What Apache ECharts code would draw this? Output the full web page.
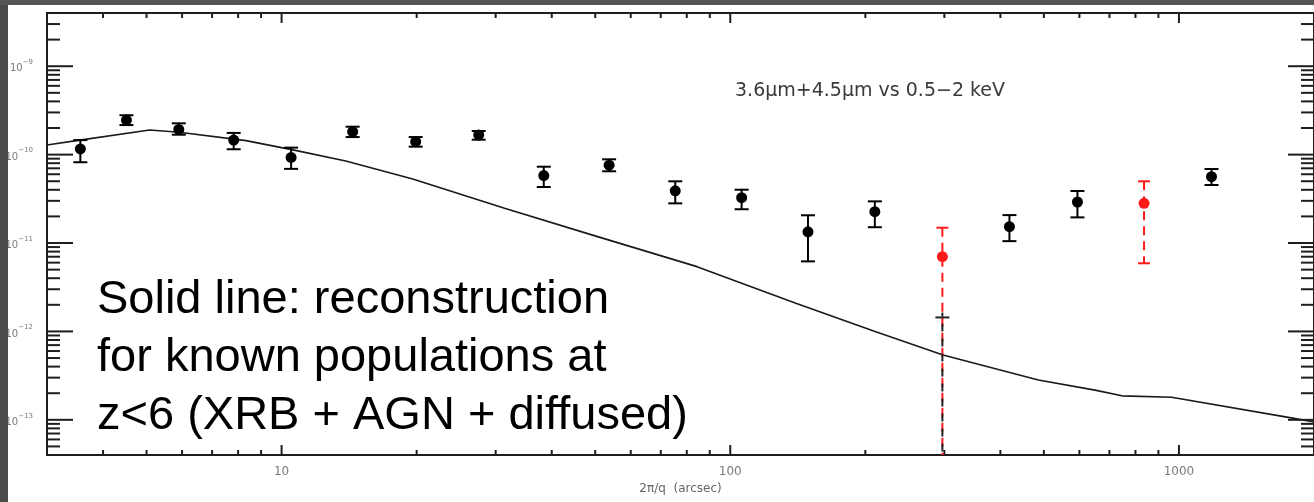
<!DOCTYPE html>
<html>
<head>
<meta charset="utf-8">
<script src="https://cdn.jsdelivr.net/npm/echarts@6/dist/echarts.min.js"></script>
<style>
  html, body { margin: 0; padding: 0; background: #ffffff; }
  #chart { width: 1314px; height: 502px; }
</style>
</head>
<body>
<div id="chart"></div>
<script>
// Axis extents (angular scale in arcsec, cross-power in log units)
const X_MIN = 3, X_MAX = 2000;
const Y_MIN = 4e-14, Y_MAX = 4e-9;

// Tick labels
const xTickLabels = ['10', '100', '1000'];
const yTickExponents = [-9, -10, -11, -12, -13];

// Measured cross-power, black points: scale, value, upper and lower error
const blackX  = [3.56, 4.51, 5.90, 7.82, 10.5, 14.4, 19.9, 27.5, 38.4, 53.7, 75.4, 106, 149, 210, 419, 594, 1182];
const blackY  = [1.16e-10, 2.46e-10, 1.93e-10, 1.46e-10, 9.3e-11, 1.82e-10, 1.40e-10, 1.67e-10, 5.8e-11, 7.6e-11, 3.9e-11, 3.26e-11, 1.34e-11, 2.26e-11, 1.53e-11, 2.91e-11, 5.63e-11];
const blackHi = [1.46e-10, 2.79e-10, 2.26e-10, 1.76e-10, 1.20e-10, 2.07e-10, 1.58e-10, 1.85e-10, 7.3e-11, 8.85e-11, 4.99e-11, 4.01e-11, 2.06e-11, 2.96e-11, 2.07e-11, 3.88e-11, 6.88e-11];
const blackLo = [8.2e-11, 2.16e-10, 1.68e-10, 1.15e-10, 6.9e-11, 1.58e-10, 1.23e-10, 1.475e-10, 4.3e-11, 6.48e-11, 2.81e-11, 2.41e-11, 6.2e-12, 1.51e-11, 1.05e-11, 1.95e-11, 4.53e-11];

// Red points (dashed errors); a null lower error runs down to the axis
const redX  = [297, 836];
const redY  = [7.0e-12, 2.81e-11];
const redHi = [1.49e-11, 4.99e-11];
const redLo = [null, 5.9e-12];

// Black lower bar at the same scale as the first red point
const limitX = [297];
const limitY = [1.44e-12];

// Reconstruction for known populations (solid line)
const curveX = [3.0, 3.55, 5.08, 5.92, 8.33, 10.6, 13.9, 19.6, 31.4, 50.6, 84.3, 140, 211, 298, 486, 650, 746, 963, 1806, 2000];
const curveY = [1.285e-10, 1.46e-10, 1.90e-10, 1.79e-10, 1.44e-10, 1.13e-10, 8.47e-11, 5.30e-11, 2.47e-11, 1.18e-11, 5.40e-12, 2.08e-12, 9.93e-13, 5.41e-13, 2.82e-13, 2.17e-13, 1.87e-13, 1.80e-13, 1.04e-13, 9.44e-14];

const AXIS_COLOR = '#1e1e1e';
const RED = '#ff1a1a';

const chart = echarts.init(document.getElementById('chart'), null, { renderer: 'canvas' });

// Major and minor tick positions for the log frame (drawn on all four sides)
function frameTicks() {
  const items = [];
  for (let d = 1; d <= 1000; d *= 10) {
    for (let m = 1; m <= 9; m++) {
      const v = m * d;
      if (v > X_MIN && v < X_MAX) items.push([v, Y_MIN, 0, m === 1 ? 1 : 0]);
    }
  }
  for (let e = -14; e <= -9; e++) {
    for (let m = 1; m <= 9; m++) {
      const v = m * Math.pow(10, e);
      if (v > Y_MIN * 1.001 && v < Y_MAX * 0.999) items.push([X_MIN, v, 1, m === 1 ? 1 : 0]);
    }
  }
  return items;
}

function renderTick(params, api) {
  const cs = params.coordSys;
  const kind = api.value(2), major = api.value(3);
  const style = { stroke: AXIS_COLOR, lineWidth: 2 };
  if (kind === 0) {
    const x = api.coord([api.value(0), Y_MIN])[0];
    const len = major ? 10 : 5;
    const yb = cs.y + cs.height, yt = cs.y;
    return { type: 'group', children: [
      { type: 'line', shape: { x1: x, y1: yb, x2: x, y2: yb - len }, style },
      { type: 'line', shape: { x1: x, y1: yt, x2: x, y2: yt + len }, style }
    ] };
  }
  const y = api.coord([X_MIN, api.value(1)])[1];
  const len = major ? 26 : 13;
  const xl = cs.x, xr = cs.x + cs.width;
  return { type: 'group', children: [
    { type: 'line', shape: { x1: xl, y1: y, x2: xl + len, y2: y }, style },
    { type: 'line', shape: { x1: xr, y1: y, x2: xr - len, y2: y }, style }
  ] };
}

function errorBarRenderer(xs, ys, los, his, color, dashed, cap) {
  return function (params, api) {
    const i = params.dataIndex;
    const cs = params.coordSys;
    const c = api.coord([xs[i], ys[i]]);
    const top = api.coord([xs[i], his[i]])[1];
    const hasLo = los[i] != null;
    const bot = hasLo ? api.coord([xs[i], los[i]])[1] : cs.y + cs.height;
    const barStyle = { stroke: color, lineWidth: 2 };
    if (dashed) barStyle.lineDash = [9, 6];
    const capStyle = { stroke: color, lineWidth: 2 };
    const children = [
      { type: 'line', shape: { x1: c[0], y1: top, x2: c[0], y2: bot }, style: barStyle },
      { type: 'line', shape: { x1: c[0] - cap, y1: top, x2: c[0] + cap, y2: top }, style: capStyle }
    ];
    if (hasLo) {
      children.push({ type: 'line', shape: { x1: c[0] - cap, y1: bot, x2: c[0] + cap, y2: bot }, style: capStyle });
    }
    children.push({ type: 'circle', shape: { cx: c[0], cy: c[1], r: 5.5 }, style: { fill: color } });
    return { type: 'group', children };
  };
}

function renderLimit(params, api) {
  const i = params.dataIndex;
  const cs = params.coordSys;
  const c = api.coord([limitX[i], limitY[i]]);
  const bot = cs.y + cs.height;
  return { type: 'group', children: [
    { type: 'line', shape: { x1: c[0], y1: c[1] - 5, x2: c[0], y2: bot },
      style: { stroke: '#222', lineWidth: 2, lineDash: [8, 7], lineDashOffset: 4 } },
    { type: 'line', shape: { x1: c[0] - 7, y1: c[1], x2: c[0] + 7, y2: c[1] },
      style: { stroke: '#222', lineWidth: 2 } }
  ] };
}

const option = {
  backgroundColor: '#ffffff',
  animation: false,
  grid: {
    left: 47, top: 13, width: 1273, height: 442,
    show: true, borderColor: AXIS_COLOR, borderWidth: 2, backgroundColor: 'transparent'
  },
  xAxis: {
    type: 'log', logBase: 10, min: X_MIN, max: X_MAX,
    axisLine: { show: false }, axisTick: { show: false }, splitLine: { show: false },
    axisLabel: {
      margin: 11, color: '#7a7a7a', fontFamily: 'DejaVu Sans', fontSize: 12,
      showMinLabel: false, showMaxLabel: false,
      formatter: function (v) {
        const k = Math.round(Math.log10(v)) - 1;
        return xTickLabels[k] !== undefined ? xTickLabels[k] : '';
      }
    },
    name: '2π/q  (arcsec)', nameLocation: 'middle', nameGap: 28,
    nameTextStyle: { color: '#666666', fontFamily: 'DejaVu Sans', fontSize: 12 }
  },
  yAxis: {
    type: 'log', logBase: 10, min: Y_MIN, max: Y_MAX,
    axisLine: { show: false }, axisTick: { show: false }, splitLine: { show: false },
    axisLabel: {
      margin: 14, color: '#7a7a7a',
      showMinLabel: false, showMaxLabel: false,
      formatter: function (v) {
        const e = Math.round(Math.log10(v));
        if (yTickExponents.indexOf(e) < 0) return '';
        return '{b|10}{s|−' + (-e) + '}';
      },
      rich: {
        b: { fontFamily: 'DejaVu Sans', fontSize: 10, color: '#7a7a7a', lineHeight: 15, verticalAlign: 'bottom' },
        s: { fontFamily: 'DejaVu Sans', fontSize: 7, color: '#7a7a7a', verticalAlign: 'top' }
      }
    }
  },
  series: [
    {
      name: 'reconstruction', type: 'line', showSymbol: false, symbol: 'none',
      data: curveX.map((x, i) => [x, curveY[i]]),
      lineStyle: { color: '#1a1a1a', width: 1.7 }, z: 2
    },
    {
      name: 'frame ticks', type: 'custom', renderItem: renderTick,
      data: frameTicks(), encode: { x: 0, y: 1 }, z: 3, silent: true
    },
    {
      name: 'measured', type: 'custom',
      renderItem: errorBarRenderer(blackX, blackY, blackLo, blackHi, '#000000', false, 7),
      data: blackX.map((x, i) => [x, blackY[i]]), z: 4
    },
    {
      name: 'measured (red)', type: 'custom',
      renderItem: errorBarRenderer(redX, redY, redLo, redHi, RED, true, 6),
      data: redX.map((x, i) => [x, redY[i]]), z: 5
    },
    {
      name: 'lower bar', type: 'custom', renderItem: renderLimit,
      data: limitX.map((x, i) => [x, limitY[i]]), z: 6
    }
  ],
  graphic: [
    { type: 'rect', shape: { x: 0, y: 0, width: 8, height: 502 }, style: { fill: '#4a4a4a' }, z: 100 },
    { type: 'rect', shape: { x: 0, y: 0, width: 1314, height: 5 }, style: { fill: '#555555' }, z: 100 },
    {
      type: 'text', x: 735, y: 91,
      style: { text: '3.6μm+4.5μm vs 0.5−2 keV', font: '19px "DejaVu Sans"', fill: '#3a3a3a', verticalAlign: 'middle' }
    },
    {
      type: 'text', x: 97, y: 300,
      style: { text: 'Solid line: reconstruction', font: '47px "Liberation Sans"', fill: '#000000', verticalAlign: 'middle' }
    },
    {
      type: 'text', x: 97, y: 358,
      style: { text: 'for known populations at', font: '47px "Liberation Sans"', fill: '#000000', verticalAlign: 'middle' }
    },
    {
      type: 'text', x: 97, y: 416,
      style: { text: 'z<6 (XRB + AGN + diffused)', font: '47px "Liberation Sans"', fill: '#000000', verticalAlign: 'middle' }
    }
  ]
};

chart.setOption(option);
</script>
</body>
</html>
